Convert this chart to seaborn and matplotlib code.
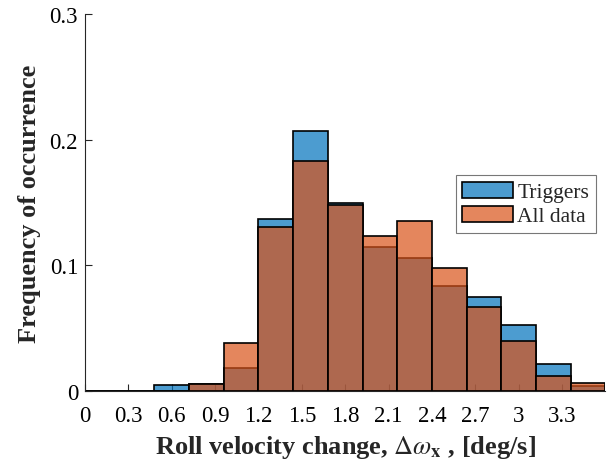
import numpy as np
import matplotlib
matplotlib.use("Agg")
import matplotlib.pyplot as plt
import seaborn as sns

# Bin edges (deg/s) and per-bin frequencies
bin_edges = [0.0, 0.24, 0.48, 0.72, 0.96, 1.20, 1.44, 1.68, 1.92, 2.16, 2.40, 2.64, 2.88, 3.12, 3.36, 3.60]
triggers = [0.0, 0.0, 0.0045, 0.0055, 0.018, 0.137, 0.207, 0.1497, 0.1144, 0.106, 0.0834, 0.0747, 0.0524, 0.0218, 0.004]
all_data = [0.0, 0.0, 0.0, 0.006, 0.038, 0.1306, 0.183, 0.148, 0.1234, 0.1356, 0.0975, 0.067, 0.0397, 0.0119, 0.0064]
x_ticks = [0, 0.3, 0.6, 0.9, 1.2, 1.5, 1.8, 2.1, 2.4, 2.7, 3.0, 3.3]
x_tick_labels = ["0", "0.3", "0.6", "0.9", "1.2", "1.5", "1.8", "2.1", "2.4", "2.7", "3", "3.3"]
y_ticks = [0, 0.1, 0.2, 0.3]
y_tick_labels = ["0", "0.1", "0.2", "0.3"]

sns.set_theme(style="ticks")
plt.rcParams["font.family"] = ["Liberation Serif", "DejaVu Serif"]
plt.rcParams["mathtext.fontset"] = "stix"

centers = [(a + b) / 2 for a, b in zip(bin_edges[:-1], bin_edges[1:])]

fig = plt.figure(figsize=(6.12, 4.77), dpi=100)
ax = fig.add_axes([0.139, 0.178, 0.85, 0.791])

blue = (0.0, 0.447, 0.741)
orange = (0.85, 0.325, 0.098)

sns.histplot(x=centers, weights=triggers, bins=bin_edges, color=blue, alpha=0.7,
             edgecolor="black", linewidth=1.2, ax=ax, label="Triggers", stat="count")
sns.histplot(x=centers, weights=all_data, bins=bin_edges, color=orange, alpha=0.7,
             edgecolor="black", linewidth=1.2, ax=ax, label="All data", stat="count")

ax.set_xlim(0, 3.6)
ax.set_ylim(0, 0.3)
ax.set_xticks(x_ticks)
ax.set_xticklabels(x_tick_labels)
ax.set_yticks(y_ticks)
ax.set_yticklabels(y_tick_labels)
ax.tick_params(direction="in", labelsize=16.5, length=5, width=0.8, colors="#262626")
ax.tick_params(axis="x", pad=10)
ax.tick_params(axis="y", pad=5)
for lab in ax.get_xticklabels() + ax.get_yticklabels():
    lab.set_color("black")
for s in ["top", "right"]:
    ax.spines[s].set_visible(False)
for s in ["left", "bottom"]:
    ax.spines[s].set_color("#262626")
    ax.spines[s].set_linewidth(0.8)

ax.set_ylabel("Frequency of occurrence", fontsize=19, fontweight="bold", labelpad=6)
ax.set_xlabel(r"Roll velocity change, $\Delta\omega_{\mathbf{x}}$ , [deg/s]",
              fontsize=19, fontweight="bold", labelpad=5)

leg = ax.legend(loc="upper left", bbox_to_anchor=(0.713, 0.572), fontsize=15.5,
                frameon=True, fancybox=False, edgecolor="#555555", handlelength=2.35,
                handleheight=0.8, handletextpad=0.2, borderpad=0.3, labelspacing=0.15,
                borderaxespad=0)
leg.get_frame().set_linewidth(0.8)

fig.savefig("out.png", dpi=100)
